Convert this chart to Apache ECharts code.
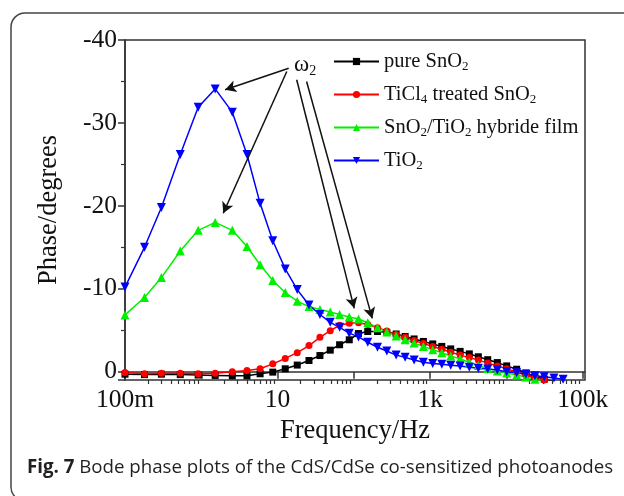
<!DOCTYPE html>
<html>
<head>
<meta charset="utf-8">
<script src="https://cdn.jsdelivr.net/npm/echarts@6/dist/echarts.min.js"></script>
<style>
html, body { margin: 0; padding: 0; background: #fff; }
#bode-phase { width: 624px; height: 496px; }
</style>
</head>
<body>
<div id="bode-phase"></div>
<script>
// frequencies (Hz), shared by all four samples
const frequency = [0.1, 0.18, 0.3, 0.53, 0.91, 1.52, 2.55, 3.97, 5.9, 8.65,
  12.6, 18.1, 25.8, 35.9, 49, 65, 87, 115, 152, 204,
  270, 358, 470, 616, 815, 1080, 1420, 1860, 2470, 3260,
  4280, 5680, 7590, 10070, 13600, 18000, 23600, 31300, 41900, 55300];

const pureSnO2 = [0.3, 0.35, 0.3, 0.35, 0.4, 0.45, 0.5, 0.5, 0.25, 0.05,
  -0.35, -0.8, -1.35, -1.95, -2.6, -3.25, -3.85, -4.6, -4.85, -4.85,
  -4.75, -4.55, -4.25, -3.95, -3.65, -3.35, -3.05, -2.75, -2.45, -2.15,
  -1.8, -1.45, -1.1, -0.7, -0.3, 0.15, 0.55, 0.9, 1.2, 1.5];

const ticl4SnO2 = [0.1, 0.25, 0.2, 0.2, 0.25, 0.2, 0.0, -0.15, -0.35, -0.95,
  -1.6, -2.3, -3.15, -4.15, -4.95, -5.6, -5.85, -5.9, -5.7, -5.3,
  -4.9, -4.5, -4.15, -3.75, -3.4, -3.05, -2.7, -2.35, -2.0, -1.7,
  -1.4, -1.05, -0.7, -0.35, 0.05, 0.4, 0.75, 1.0, 1.3, 1.5];

const hybrideFilm = [-6.85, -8.95, -11.35, -14.55, -17.05, -18.0, -17.05, -15.1, -12.9, -11.0,
  -9.55, -8.5, -7.85, -7.5, -7.2, -6.9, -6.6, -6.35, -5.9, -5.3,
  -4.8, -4.3, -3.85, -3.45, -3.05, -2.65, -2.3, -1.9, -1.55, -1.15,
  -0.75, -0.4, -0.1, 0.15, 0.4, 0.65, 0.9, 1.1, 1.3, 1.5];

const tio2 = [-10.2, -15.0, -19.8, -26.2, -31.9, -34.1, -31.3, -26.2, -20.3, -15.8,
  -12.4, -9.9, -8.05, -6.9, -5.95, -5.35, -4.65, -4.2, -3.55, -2.95,
  -2.5, -2.0, -1.75, -1.4, -1.15, -1.0, -0.9, -0.78, -0.68, -0.53,
  -0.42, -0.33, -0.2, 0.0, 0.12, 0.3, 0.48, 0.6, 0.76, 0.92];

const seriesNames = ['pure SnO2', 'TiCl4 treated SnO2', 'SnO2/TiO2 hybride film', 'TiO2'];

// axis ticks and labels
const xLabelValues = [0.1, 10, 1000, 100000];
const xLabelTexts = ['100m', '10', '1k', '100k'];
const xMajorTicks = [0.1, 1, 10, 100, 1000, 10000, 100000];
const xMinorTicks = [];
[0.1, 1, 10, 100, 1000, 10000].forEach(function (d) {
  for (let k = 2; k <= 9; k++) xMinorTicks.push(+(d * k).toPrecision(3));
});

// omega_2 arrows: [from, to] as [frequency, phase]
const arrows = [
  [[14.0, -36.6], [2.05, -34.0]],
  [[13.2, -36.2], [1.94, -19.1]],
  [[17.8, -35.2], [101, -7.64]],
  [[24.0, -35.0], [174, -6.43]]
];
const omegaLabelAt = [23, -37.0];

const serif = "'Liberation Serif', 'Times New Roman', serif";
const subRich = {
  s: { fontSize: 13, fontFamily: serif, color: '#111', padding: [10, 0, 0, 0] }
};
function withSub(name) {
  return name.replace(/(\d)/g, '{s|$1}');
}

const chartDom = document.getElementById('bode-phase');
const myChart = echarts.init(chartDom);

function makeSeries(name, values, symbol, size, color, rotate) {
  return {
    name: name,
    type: 'line',
    data: frequency.map(function (f, i) { return [f, values[i]]; }),
    symbol: symbol,
    symbolSize: size,
    symbolRotate: rotate || 0,
    lineStyle: { color: color, width: 1.5 },
    itemStyle: { color: color },
    animation: false
  };
}

const option = {
  animation: false,
  grid: {
    left: 125, top: 40, right: 39, bottom: 116,
    show: true, borderColor: '#333', borderWidth: 1.5
  },
  legend: {
    data: seriesNames,
    orient: 'vertical',
    left: 328,
    top: 46,
    itemWidth: 45,
    itemHeight: 9,
    itemGap: 11,
    formatter: withSub,
    textStyle: { fontSize: 20.5, fontFamily: serif, color: '#111', rich: subRich }
  },
  xAxis: [
    {
      type: 'log',
      min: 0.1,
      max: 107000,
      axisLine: { lineStyle: { color: '#333', width: 1.5 } },
      axisTick: { customValues: xMajorTicks, length: 7, lineStyle: { color: '#333', width: 1.5 } },
      axisLabel: {
        customValues: xLabelValues,
        fontSize: 25.5, fontFamily: serif, color: '#111', margin: 7,
        formatter: function (v) {
          const i = xLabelValues.findIndex(function (x) { return Math.abs(Math.log10(x) - Math.log10(v)) < 1e-6; });
          return i >= 0 ? xLabelTexts[i] : '';
        }
      },
      splitLine: { show: false },
      name: 'Frequency/Hz',
      nameLocation: 'middle',
      nameGap: 33,
      nameTextStyle: { fontSize: 26.5, fontFamily: serif, color: '#111' }
    },
    {
      type: 'log',
      min: 0.1,
      max: 107000,
      position: 'bottom',
      axisLine: { show: false },
      axisTick: { customValues: xMinorTicks, length: 4, lineStyle: { color: '#333', width: 1.2 } },
      axisLabel: { show: false },
      splitLine: { show: false }
    }
  ],
  yAxis: {
    type: 'value',
    inverse: true,
    min: -40,
    max: 1,
    interval: 10,
    axisLine: { show: true, lineStyle: { color: '#333', width: 1.5 } },
    axisTick: { show: true, length: 7, lineStyle: { color: '#333', width: 1.5 } },
    minorTick: { show: true, splitNumber: 2, length: 4, lineStyle: { color: '#333', width: 1.2 } },
    axisLabel: {
      fontSize: 25.5, fontFamily: serif, color: '#111', margin: 8,
      formatter: function (v) { return v > 0 ? '' : (v < 0 ? '-' + Math.abs(v) : '0'); }
    },
    splitLine: { show: false },
    name: 'Phase/degrees',
    nameLocation: 'middle',
    nameGap: 62,
    nameTextStyle: { fontSize: 26.5, fontFamily: serif, color: '#111' }
  },
  series: [
    makeSeries(seriesNames[0], pureSnO2, 'rect', 7, '#000000'),
    makeSeries(seriesNames[1], ticl4SnO2, 'circle', 7, '#ff0000'),
    makeSeries(seriesNames[2], hybrideFilm, 'triangle', 9, '#00f000'),
    makeSeries(seriesNames[3], tio2, 'triangle', 9, '#0000ff', 180),
    {
      name: 'annotation',
      type: 'line',
      data: [],
      silent: true,
      animation: false,
      markLine: {
        silent: true,
        animation: false,
        symbol: ['none', 'arrow'],
        symbolSize: [9, 11],
        label: { show: false },
        lineStyle: { color: '#111', width: 1.5, type: 'solid' },
        data: arrows.map(function (a) {
          return [{ coord: a[0] }, { coord: a[1] }];
        })
      },
      markPoint: {
        silent: true,
        animation: false,
        symbol: 'circle',
        symbolSize: 0,
        data: [{
          coord: omegaLabelAt,
          label: {
            show: true,
            position: 'inside',
            formatter: '{w|ω}{s|2}',
            rich: {
              w: { fontSize: 23, fontFamily: serif, color: '#111' },
              s: { fontSize: 14, fontFamily: serif, color: '#111', padding: [12, 0, 0, 0] }
            }
          }
        }]
      }
    }
  ],
  graphic: [
    {
      type: 'rect',
      silent: true,
      shape: { x: 11, y: 13, width: 640, height: 488, r: 14 },
      style: { fill: 'none', stroke: '#444', lineWidth: 1.5 }
    },
    {
      type: 'text',
      left: 27,
      top: 458,
      silent: true,
      style: {
        text: '{b|Fig. 7} Bode phase plots of the CdS/CdSe co-sensitized photoanodes',
        fontSize: 18.7,
        fontFamily: "'Open Sans', sans-serif",
        fill: '#231f20',
        rich: {
          b: { fontSize: 18.7, fontWeight: 'bold', fontFamily: "'Open Sans', sans-serif", fill: '#231f20' }
        }
      }
    }
  ]
};

option && myChart.setOption(option);
window.addEventListener('resize', function () {
  myChart.resize();
});
</script>
</body>
</html>
